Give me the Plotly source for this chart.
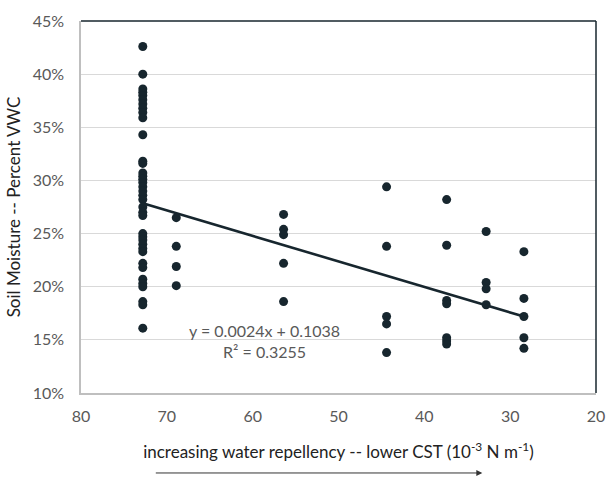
import plotly.graph_objects as go

# Critical surface tension of each soil group (10^-3 N m^-1) and measured soil moisture (fraction VWC)
cst_72_8 = 72.8
vwc_72_8 = [0.426, 0.400, 0.386, 0.383, 0.380, 0.376, 0.372, 0.368, 0.364, 0.359,
            0.343, 0.318, 0.316, 0.307, 0.304, 0.301, 0.298, 0.294, 0.290, 0.286,
            0.282, 0.275, 0.270, 0.267, 0.250, 0.247, 0.244, 0.240, 0.236, 0.233,
            0.222, 0.218, 0.207, 0.203, 0.200, 0.186, 0.183, 0.161]
cst_68_9 = 68.9
vwc_68_9 = [0.265, 0.238, 0.219, 0.201]
cst_56_4 = 56.4
vwc_56_4 = [0.268, 0.254, 0.249, 0.222, 0.186]
cst_44_4 = 44.4
vwc_44_4 = [0.294, 0.238, 0.172, 0.165, 0.138]
cst_37_4 = 37.4
vwc_37_4 = [0.282, 0.239, 0.187, 0.184, 0.152, 0.149, 0.146]
cst_32_8 = 32.8
vwc_32_8 = [0.252, 0.204, 0.198, 0.183]
cst_28_4 = 28.4
vwc_28_4 = [0.233, 0.189, 0.172, 0.152, 0.142]

# Linear trendline coefficients
slope = 0.0024
intercept = 0.1038
r_squared = 0.3255

groups = [(cst_72_8, vwc_72_8), (cst_68_9, vwc_68_9), (cst_56_4, vwc_56_4),
          (cst_44_4, vwc_44_4), (cst_37_4, vwc_37_4), (cst_32_8, vwc_32_8),
          (cst_28_4, vwc_28_4)]

xs, ys = [], []
for cst, vals in groups:
    xs += [cst] * len(vals)
    ys += vals

dark = "#17262e"
grey_text = "#595959"
font_family = "Lato, 'Open Sans', sans-serif"

fig = go.Figure()

x_lo, x_hi = min(xs), max(xs)
fig.add_trace(go.Scatter(
    x=[x_hi, x_lo],
    y=[slope * x_hi + intercept, slope * x_lo + intercept],
    mode="lines", line=dict(color=dark, width=2.6), hoverinfo="skip",
))
fig.add_trace(go.Scatter(
    x=xs, y=ys, mode="markers",
    marker=dict(size=9, color=dark),
))

fig.add_annotation(
    x=58.6, y=0.149, xref="x", yref="y",
    text=f"y = {slope}x + {intercept}<br>R² = {r_squared}",
    showarrow=False, align="center",
    font=dict(family=font_family, size=16, color=grey_text),
)

# Direction arrow under the axis title
fig.add_annotation(
    x=480 / 616, y=-0.215, xref="paper", yref="paper",
    axref="pixel", ayref="pixel", ax=-328, ay=0,
    text="", showarrow=True, arrowhead=2, arrowsize=1.2, arrowwidth=1,
    arrowcolor="#333333",
)

# Dark frame lines on top and right of the plot area
fig.add_shape(type="line", xref="paper", yref="paper", x0=0, x1=1, y0=1, y1=1,
              line=dict(color=dark, width=1.5))
fig.add_shape(type="line", xref="paper", yref="paper", x0=1, x1=1, y0=0, y1=1,
              line=dict(color=dark, width=1.5))

fig.update_layout(
    width=616, height=477,
    margin=dict(l=81, r=11, t=15, b=84),
    paper_bgcolor="white", plot_bgcolor="white",
    showlegend=False,
    font=dict(family=font_family, color=grey_text),
    xaxis=dict(
        range=[80, 20], dtick=10, tick0=20,
        showgrid=False, zeroline=False,
        showline=True, linecolor="#bfbfbf", linewidth=1.5,
        ticks="", ticklabelstandoff=8,
        tickfont=dict(size=16, color=grey_text),
        title=dict(
            text="increasing water repellency -- lower CST (10<sup>-3</sup> N m<sup>-1</sup>)",
            font=dict(size=17, color="#222222"), standoff=22,
        ),
    ),
    yaxis=dict(
        range=[0.10, 0.45], dtick=0.05, tickformat=".0%",
        showgrid=True, gridcolor="#d9d9d9", gridwidth=1.2,
        zeroline=False,
        showline=True, linecolor="#bfbfbf", linewidth=1.5,
        ticks="", ticklabelstandoff=12,
        tickfont=dict(size=16, color=grey_text),
        title=dict(text="Soil Moisture -- Percent VWC",
                   font=dict(size=17, color="#222222"), standoff=8),
    ),
)

fig.write_html("out.html")
